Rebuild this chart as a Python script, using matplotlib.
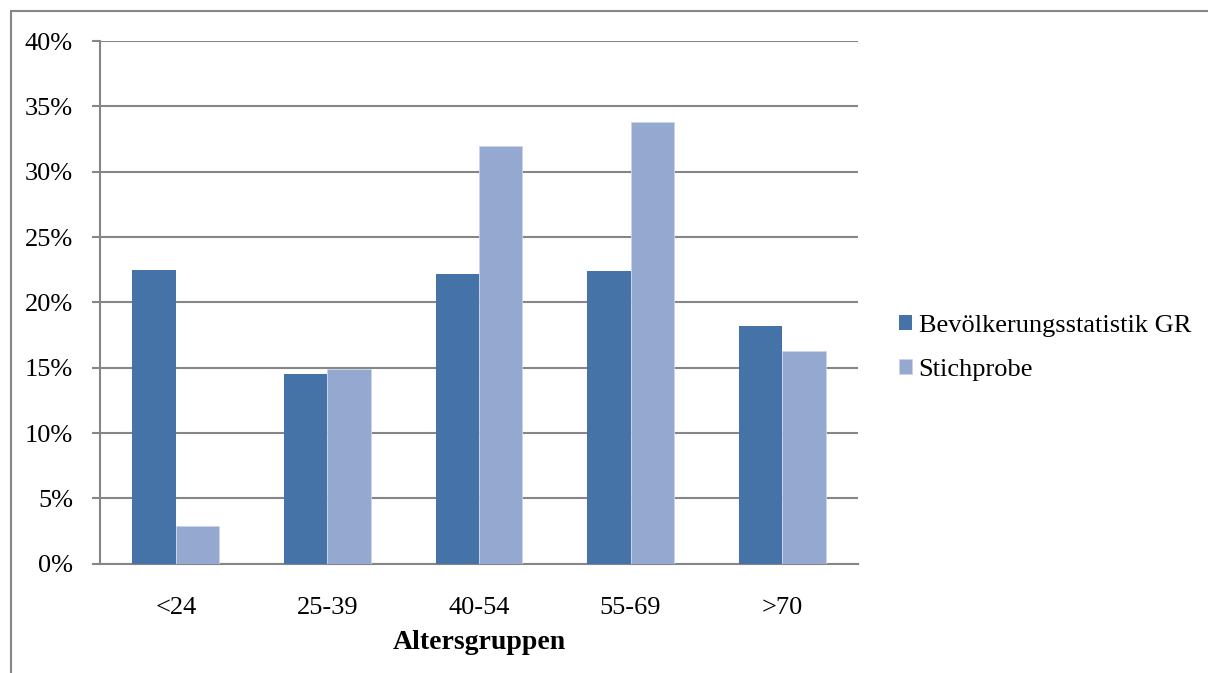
import numpy as np
import matplotlib.pyplot as plt
from matplotlib.patches import Rectangle
from matplotlib.ticker import PercentFormatter

plt.rcParams['font.family'] = ['Liberation Serif', 'DejaVu Serif']

groups = ['<24', '25-39', '40-54', '55-69', '>70']
bevoelkerung = [22.5, 14.5, 22.15, 22.4, 18.2]
stichprobe = [2.9, 14.9, 32.0, 33.8, 16.3]
series_names = ['Bevölkerungsstatistik GR', 'Stichprobe']

dark = '#4673A7'
light = '#95A9D0'
grid_grey = '#868686'
fs = 19

fig = plt.figure(figsize=(12.08, 6.73), dpi=100)
ax = fig.add_axes([100 / 1208, 1 - 563.7 / 673, 758 / 1208, 522.7 / 673])

x = np.arange(len(groups))
w = 0.286
ax.bar(x - w / 2, bevoelkerung, w, color=dark, edgecolor='none', label=series_names[0], zorder=3)
ax.bar(x + w / 2, stichprobe, w, color=light, edgecolor='#c9d4ea', linewidth=0.6,
       label=series_names[1], zorder=3)

ax.set_xlim(-0.5, len(groups) - 0.5)
ax.set_ylim(0, 40)
ax.set_yticks(np.arange(0, 41, 5))
ax.yaxis.set_major_formatter(PercentFormatter(decimals=0))
ax.set_xticks(x)
ax.set_xticklabels(groups)
ax.grid(axis='y', color=grid_grey, linewidth=1.5, zorder=1)
ax.set_axisbelow(True)

for s in ['top', 'right']:
    ax.spines[s].set_visible(False)
ax.spines['left'].set_color(grid_grey)
ax.spines['left'].set_linewidth(1.5)
ax.spines['bottom'].set_color(grid_grey)
ax.spines['bottom'].set_linewidth(1.5)

ax.tick_params(axis='y', length=6, width=1.5, color=grid_grey, pad=13.5, labelsize=fs)
ax.tick_params(axis='x', length=0, pad=24, labelsize=fs)
ax.set_xlabel('Altersgruppen', fontsize=20, fontweight='bold', labelpad=8)

ax.legend(loc='center left', bbox_to_anchor=(1.04, 0.413), frameon=False, fontsize=fs,
          handlelength=0.5, handleheight=0.5, handletextpad=0.25, labelspacing=0.85,
          borderaxespad=0)

# outer chart frame
fig.patches.append(Rectangle((11 / 1208, -0.05), 1.2, 1 - 11 / 673 + 0.05,
                             transform=fig.transFigure, fill=False,
                             edgecolor=grid_grey, linewidth=1.5))

fig.savefig('out.png', dpi=100)
